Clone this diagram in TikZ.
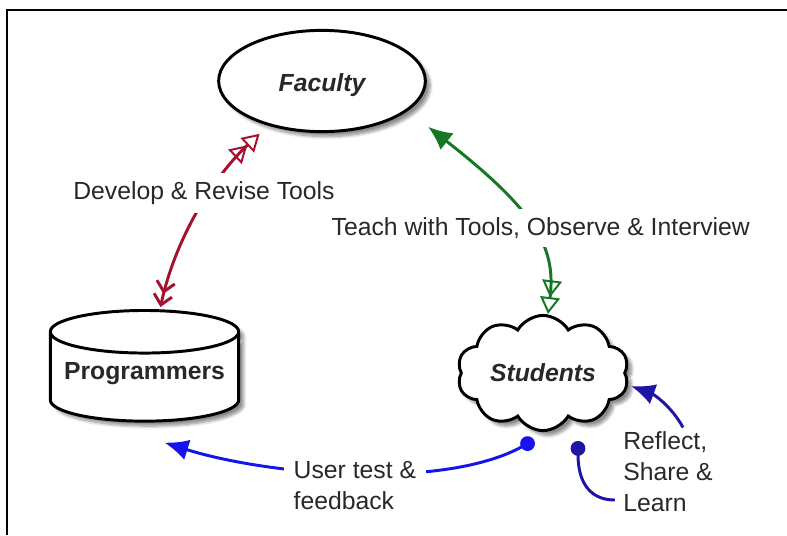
\documentclass[tikz,border=0pt]{standalone}
\usepackage{fontspec}
\setmainfont{Liberation Sans}
\usetikzlibrary{arrows.meta,shapes.geometric,shapes.symbols,shadows.blur}

\definecolor{toolred}{RGB}{165,18,48}
\definecolor{teachgreen}{RGB}{20,120,35}
\definecolor{testblue}{RGB}{20,20,235}
\definecolor{learnblue}{RGB}{30,20,165}
\definecolor{labelgray}{RGB}{40,40,40}

\newcommand{\diagfont}{\fontsize{17.6}{22}\selectfont}

\tikzset{
  actor/.style={draw=black, line width=2.1pt, fill=white, text=labelgray,
    blur shadow={shadow xshift=3.5pt, shadow yshift=-3.5pt,
      shadow opacity=45, shadow blur steps=8}},
  flow/.style={line width=2.1pt},
  flowlabel/.style={fill=white, text=labelgray, align=left,
    inner xsep=5pt, inner ysep=6pt, font=\diagfont},
  twin open/.tip={Triangle[open, length=12pt, width=14pt, line width=1.4pt]
    Triangle[open, length=12pt, width=14pt, line width=1.4pt]},
  twin barb/.tip={Straight Barb[length=7pt, width=13pt]
    Straight Barb[length=7pt, width=13pt]},
  solid head/.tip={Latex[length=17pt, width=15pt]},
  dot/.tip={Circle[length=10.5pt]}
}

\begin{document}
\begin{tikzpicture}[x=0.025cm, y=-0.025cm]
  \useasboundingbox (0,0) rectangle (787,535);

  % Frame round the diagram
  \draw [line width=1.4pt] (787,10) -- (7,10) -- (7,535);%

  % Marking node Faculty
  \node [actor, ellipse, minimum width=147pt, minimum height=72pt,
    font=\diagfont\bfseries\itshape] (Faculty) at (322,81) {\raisebox{-3pt}[\height][\depth]{Faculty}};%

  % Marking node Programmers
  \node [actor, cylinder, shape border rotate=90, aspect=0.25,
    minimum width=134pt, minimum height=78.7pt,
    font=\diagfont\bfseries] (Programmers) at (144.5,380.5) {\raisebox{5pt}[\height][\depth]{Programmers}};%

  % Marking node Students
  \node [actor, cloud, cloud puffs=10, cloud puff arc=120, aspect=1.8,
    minimum width=122pt, minimum height=72pt,
    font=\diagfont\bfseries\itshape] (Students) at (543,373) {Students};%

  % Drawing connector Faculty - Programmers
  \draw [flow, toolred, {twin open}-{twin barb}]
    ([shift={(-9,8)}]Faculty.220) .. controls +(-45,42) and +(15,-70) .. ([shift={(16,-2)}]Programmers.north)
    node [flowlabel, pos=0.4, xshift=-4pt] {Develop \& Revise Tools};%

  % Drawing connector Faculty - Students
  \draw [flow, teachgreen, {solid head}-{twin open}]
    ([shift={(28,11)}]Faculty.-24) .. controls +(110,86) and +(8,-65) .. ([shift={(5,0)}]Students.north)
    node [flowlabel, pos=0.5, xshift=6pt] {Teach with Tools, Observe \& Interview};%

  % Drawing connector Students - Programmers
  \draw [flow, testblue, {dot}-{solid head}]
    ([shift={(-9,67)}]Students.center) .. controls +(-90,50) and +(105,33) .. ([shift={(20,20)}]Programmers.south)
    node [flowlabel, pos=0.5, yshift=-9pt, inner xsep=7pt] {User test \&\\feedback};%

  % Marking label of the Students loop
  \node [flowlabel, inner sep=3pt] (Learn) at (668,472) {Reflect,\\Share \&\\Learn};%

  % Drawing loop Students - Students
  \draw [flow, learnblue, {dot}-]
    ([shift={(35,68)}]Students.center) .. controls +(0,45) and +(-22,0) .. ([shift={(-4,28)}]Learn.west);%
  \draw [flow, learnblue, -{solid head}]
    ([shift={(15,0)}]Learn.north) .. controls +(-12,-22) and +(22,8) .. ([shift={(88,13)}]Students.center);%
\end{tikzpicture}
\end{document}
